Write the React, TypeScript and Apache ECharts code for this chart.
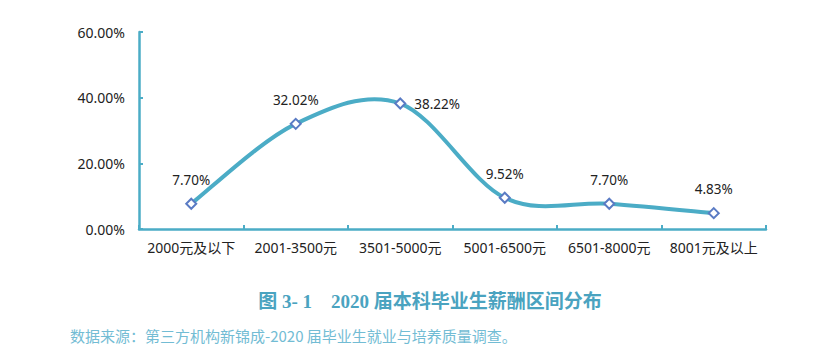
import React, { useEffect, useRef } from "react";
import * as echarts from "echarts";

const categories = ["2000元及以下", "2001-3500元", "3501-5000元", "5001-6500元", "6501-8000元", "8001元及以上"];
const values = [7.7, 32.02, 38.22, 9.52, 7.7, 4.83];
const labelPositions = ["top", "top", "right", "top", "top", "top"];
const yTicks = { min: 0, max: 60, interval: 20 };
const chartTitle = "图 3- 1    2020 届本科毕业生薪酬区间分布";
const sourceText = "数据来源：第三方机构新锦成-2020 届毕业生就业与培养质量调查。";

export default function App() {
  const ref = useRef<HTMLDivElement>(null);
  useEffect(() => {
    document.body.style.margin = "0";
    const chart = echarts.init(ref.current!, null, { renderer: "svg" });
    const teal = "#4bacc6";
    const renderCurve = (params: any, api: any) => {
      if (params.dataIndex !== 0) return null;
      const pts = values.map((v, i) => api.coord([i, v]));
      const n = pts.length;
      let d = `M${pts[0][0]},${pts[0][1]}`;
      for (let i = 0; i < n - 1; i++) {
        const p0 = pts[Math.max(0, i - 1)];
        const p1 = pts[i];
        const p2 = pts[i + 1];
        const p3 = pts[Math.min(n - 1, i + 2)];
        const c1x = p1[0] + (p2[0] - p0[0]) / 6;
        const c1y = p1[1] + (p2[1] - p0[1]) / 6;
        const c2x = p2[0] - (p3[0] - p1[0]) / 6;
        const c2y = p2[1] - (p3[1] - p1[1]) / 6;
        d += ` C${c1x},${c1y} ${c2x},${c2y} ${p2[0]},${p2[1]}`;
      }
      return {
        type: "path",
        shape: { pathData: d },
        style: { stroke: teal, lineWidth: 4, fill: "none" },
      };
    };
    chart.setOption({
      animation: false,
      backgroundColor: "#ffffff",
      title: [
        {
          text: chartTitle,
          left: 425,
          textAlign: "center",
          top: 287,
          textStyle: { fontSize: 19, fontWeight: "bold", color: "#4aa3c0", fontFamily: "'Liberation Serif', 'Noto Sans CJK SC', serif" },
        },
        {
          text: sourceText,
          left: 65,
          top: 323,
          textStyle: { fontSize: 15, fontWeight: "normal", color: "#72bcd4", fontFamily: "'Noto Sans CJK SC', sans-serif" },
        },
      ],
      grid: { left: 139, right: 63, top: 32, bottom: 122, containLabel: false },
      xAxis: {
        type: "category",
        data: categories,
        boundaryGap: true,
        axisLine: { lineStyle: { color: teal, width: 2.5 } },
        axisTick: { show: true, inside: true, length: 4, lineStyle: { color: teal, width: 2 } },
        axisLabel: { color: "#222", fontSize: 14, margin: 11, fontFamily: "'Noto Sans', 'Noto Sans CJK SC', sans-serif", interval: 0 },
        splitLine: { show: false },
      },
      yAxis: {
        type: "value",
        min: yTicks.min,
        max: yTicks.max,
        interval: yTicks.interval,
        axisLine: { show: true, lineStyle: { color: teal, width: 2.5 } },
        axisTick: { show: true, inside: true, length: 4, lineStyle: { color: teal, width: 2 } },
        axisLabel: { color: "#222", fontSize: 14, margin: 14, formatter: (v: number) => v.toFixed(2) + "%", fontFamily: "'Noto Sans', sans-serif" },
        splitLine: { show: false },
      },
      series: [
        {
          type: "custom",
          renderItem: renderCurve,
          data: values.map((v, i) => [i, v]),
          encode: { x: 0, y: 1 },
          z: 2,
          silent: true,
        },
        {
          type: "scatter",
          z: 5,
          data: values.map((v, i) => ({
            value: [i, v],
            label: { position: labelPositions[i], distance: labelPositions[i] === "right" ? 8 : 11 },
          })),
          symbol: "emptyDiamond",
          symbolSize: 10,
          itemStyle: { color: "#5a7bc4", borderWidth: 1, opacity: 1 },
          label: {
            show: true,
            color: "#222",
            fontSize: 13.5,
            fontFamily: "'Noto Sans', sans-serif",
            formatter: (p: any) => p.value[1].toFixed(2) + "%",
          },
        },
      ],
    });
    return () => chart.dispose();
  }, []);
  return <div ref={ref} style={{ width: 829, height: 351 }} />;
}
